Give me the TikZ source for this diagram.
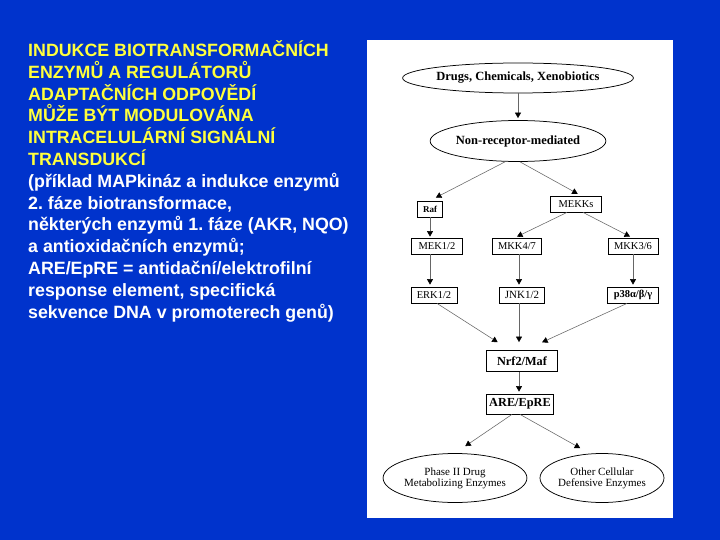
\documentclass[tikz,border=0pt]{standalone}
\usepackage{fontspec}
\setmainfont{Liberation Serif}
\newfontfamily\arialfont{Liberation Sans}
\usetikzlibrary{shapes.geometric,arrows.meta,calc}
\definecolor{bgblue}{RGB}{0,51,204}
\definecolor{ylw}{RGB}{255,255,60}
\tikzset{
  lt/.style={inner sep=0pt, anchor=base west, font=\arialfont\bfseries\fontsize{17.8}{21.8}\selectfont\frenchspacing},
  box/.style={draw=black, line width=0.8pt, fill=white, inner sep=0pt, minimum height=16pt, font=\fontsize{10.5}{12}\selectfont},
  bbox/.style={box, font=\bfseries\fontsize{12.3}{14}\selectfont},
  ell/.style={ellipse, draw=black, line width=0.75pt, fill=white, inner sep=0pt, align=center},
  arr/.style={draw=black!60, line width=0.55pt, -{Triangle[length=5.5pt,width=6pt,color=black]}},
}
\begin{document}
\begin{tikzpicture}[x=1pt,y=-1pt]
\useasboundingbox (0,0) rectangle (720,540);
\fill[bgblue] (0,0) rectangle (720,540);
% left text
\foreach \t [count=\i] in {{INDUKCE BIOTRANSFORMAČNÍCH}, {ENZYMŮ A REGULÁTORŮ}, {ADAPTAČNÍCH ODPOVĚDÍ}, {MŮŽE BÝT MODULOVÁNA}, {INTRACELULÁRNÍ SIGNÁLNÍ}, {TRANSDUKCÍ}}
  \node[lt, text=ylw] (ly\i) at (28,{56.5+21.8*(\i-1)}) {\t};
\foreach \t [count=\i from 7] in {{(příklad MAPkináz a indukce enzymů}, {2. fáze biotransformace,}, {některých enzymů 1. fáze (AKR, NQO)}, {a antioxidačních enzymů;}, {ARE/EpRE = antidační/elektrofilní}, {response element, specifická}, {sekvence DNA v promoterech genů)}}
  \node[lt, text=white] (lw\i) at (28,{56.5+21.8*(\i-1)}) {\t};
% panel
\fill[white] (367,40) rectangle (673,518);
% nodes
\node[ell, minimum width=205pt, minimum height=30pt, font=\bfseries\fontsize{12.5}{14}\selectfont] (drugs) at (518,78) {Drugs, Chemicals, Xenobiotics};
\node[ell, minimum width=141pt, minimum height=41pt, font=\bfseries\fontsize{12.5}{14}\selectfont] (non) at (518,141) {Non-receptor-mediated};
\node[box, minimum width=25pt, font=\bfseries\fontsize{9}{10}\selectfont] (ref) at (430,209) {Raf};
\node[box, minimum width=51pt] (mekks) at (576,204) {MEKKs};
\node[box, minimum width=51pt] (mek) at (437,246) {MEK1/2};
\node[box, minimum width=49pt] (mkk47) at (517,246) {MKK4/7};
\node[box, minimum width=50pt] (mkk36) at (633,246) {MKK3/6};
\node[box, minimum width=46pt] (erk) at (434,295) {ERK1/2};
\node[box, minimum width=45pt, font=\fontsize{11}{12}\selectfont] (jnk) at (522,295) {JNK1/2};
\node[box, minimum width=51pt, font=\bfseries\fontsize{10.5}{12}\selectfont] (p38) at (633,295) {p38α/β/γ};
\node[bbox, minimum width=71pt, minimum height=21pt] (nrf) at (522,361) {Nrf2/Maf};
\node[bbox, minimum width=67pt, minimum height=20pt] (are) at (520,404) {ARE/EpRE};
\node[ell, minimum width=115pt, minimum height=49pt, font=\fontsize{11}{11}\selectfont] (phase) at (455,478) {Phase II Drug\\Metabolizing Enzymes};
\node[ell, minimum width=115pt, minimum height=49pt, font=\fontsize{11}{11}\selectfont] (other) at (602,478) {Other Cellular\\Defensive Enzymes};
% helper coordinates
\coordinate (s1) at ($(mkk47.south)+(2,0)$);
\coordinate (s2) at ($(jnk.south)+(-3,0)$);
\coordinate (s3) at ($(nrf.south)+(-3,0)$);
% connectors
\draw[arr, shorten >=2pt] (drugs.south) -- (non.north);
\draw[arr, shorten >=6.6pt] ($(non.south)+(-13,0)$) -- (ref.north);
\draw[arr, shorten >=3.8pt] ($(non.south)+(2,0)$) -- ($(mekks.north)+(5,0)$);
\draw[arr, shorten >=1pt] (ref.south) -- (ref.south |- mek.north);
\draw[arr, shorten >=2pt] (ref.south |- mek.south) -- (ref.south |- erk.north);
\draw[arr, shorten >=2.2pt] ($(mekks.south)+(-9,0)$) -- ($(mkk47.north)+(-2,0)$);
\draw[arr, shorten >=2.2pt] ($(mekks.south)+(7,0)$) -- ($(mkk36.north)+(-1,0)$);
\draw[arr, shorten >=2pt] (s1) -- (s1 |- jnk.north);
\draw[arr, shorten >=2pt] (mkk36.south) -- (p38.north);
\draw[arr, shorten >=14.6pt] ($(erk.south)+(3,0)$) -- ($(nrf.north)+(-12,0)$);
\draw[arr, shorten >=8pt] (s2) -- (s2 |- nrf.north);
\draw[arr, shorten >=18.8pt] ($(p38.south)+(-6,0)$) -- ($(nrf.north)+(3,0)$);
\draw[arr, shorten >=2pt] (s3) -- (s3 |- are.north);
\draw[arr, shorten >=12.4pt] ($(are.south)+(-8,0)$) -- (phase.north);
\draw[arr, shorten >=12.4pt] (are.south) -- ($(other.north)+(-11,1)$);
\end{tikzpicture}
\end{document}
